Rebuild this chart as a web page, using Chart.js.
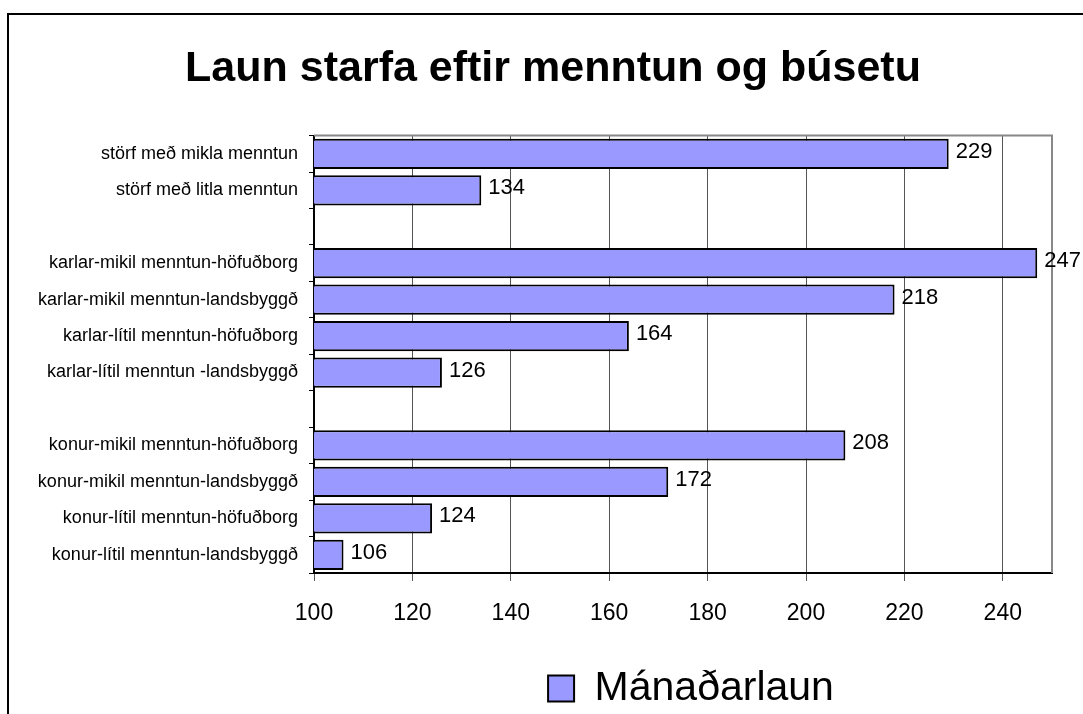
<!DOCTYPE html>
<html>
<head>
<meta charset="utf-8">
<script src="https://cdn.jsdelivr.net/npm/chart.js@4/dist/chart.umd.min.js"></script>
<style>
    body { margin: 0; background: #fff; }
    #wrap { position: relative; width: 1083px; height: 714px; overflow: hidden; }
    #frame { position: absolute; left: 7px; top: 13px; width: 1200px; height: 800px; border: 2px solid #000; }
    canvas { position: absolute; left: 0; top: 0; }
</style>
</head>
<body>
<div id="wrap">
    <div id="frame"></div>
    <canvas id="bar-chart-laun" width="1083" height="714"></canvas>
</div>
<script>
var chartTitle = 'Laun starfa eftir menntun og búsetu';
var seriesName = 'Mánaðarlaun';

// empty labels are the gaps between the groups
var categories = [
    'störf með mikla menntun',
    'störf með litla menntun',
    '',
    'karlar-mikil menntun-höfuðborg',
    'karlar-mikil menntun-landsbyggð',
    'karlar-lítil menntun-höfuðborg',
    'karlar-lítil menntun -landsbyggð',
    '',
    'konur-mikil menntun-höfuðborg',
    'konur-mikil menntun-landsbyggð',
    'konur-lítil menntun-höfuðborg',
    'konur-lítil menntun-landsbyggð'
];
var launValues = [229, 134, null, 247, 218, 164, 126, null, 208, 172, 124, 106];
var xTicks = [100, 120, 140, 160, 180, 200, 220, 240];

var fontFamily = '"Liberation Sans", Arial, sans-serif';

// numbers at the end of each bar
var valueLabels = {
    id: 'valueLabels',
    afterDatasetsDraw: function (chart) {
        var ctx = chart.ctx;
        var meta = chart.getDatasetMeta(0);
        ctx.save();
        ctx.font = '22px ' + fontFamily;
        ctx.fillStyle = '#000';
        ctx.textAlign = 'left';
        ctx.textBaseline = 'middle';
        meta.data.forEach(function (bar, i) {
            var v = launValues[i];
            if (v === null) {
                return;
            }
            ctx.fillText(v, bar.x + 7, bar.y - 2);
        });
        ctx.restore();
    }
};

// grey top and right edge of the plot area
var plotFrame = {
    id: 'plotFrame',
    beforeDatasetsDraw: function (chart) {
        var a = chart.chartArea;
        var ctx = chart.ctx;
        ctx.save();
        ctx.strokeStyle = '#888';
        ctx.lineWidth = 2;
        ctx.beginPath();
        ctx.moveTo(a.left, a.top);
        ctx.lineTo(a.right, a.top);
        ctx.lineTo(a.right, a.bottom);
        ctx.stroke();
        ctx.restore();
    }
};

// title and legend sit a bit right of the canvas centre in the original
var nudgeBoxes = {
    id: 'nudgeBoxes',
    afterLayout: function (chart) {
        if (chart.titleBlock) {
            chart.titleBlock.left += 27;
            chart.titleBlock.right += 27;
        }
        if (chart.legend) {
            chart.legend.left += 8;
            chart.legend.right += 8;
        }
    }
};

var barOptions = {
    type: 'bar',
    data: {
        labels: categories,
        datasets: [
            {
                label: seriesName,
                data: launValues,
                backgroundColor: '#9999FF',
                borderColor: '#000',
                borderWidth: 2,
                borderSkipped: false,
                barPercentage: 0.83,
                categoryPercentage: 1
            }
        ]
    },
    options: {
        indexAxis: 'y',
        responsive: false,
        animation: false,
        devicePixelRatio: 1,
        layout: {
            padding: { left: 0, right: 31, top: 0, bottom: -5 }
        },
        scales: {
            x: {
                min: 100,
                max: 250,
                afterBuildTicks: function (scale) {
                    scale.ticks = xTicks.map(function (v) { return { value: v }; });
                },
                afterFit: function (scale) {
                    scale.height = 89;
                },
                grid: {
                    color: '#555',
                    lineWidth: 1,
                    tickLength: 8,
                    tickColor: '#555'
                },
                border: { color: '#000', width: 2 },
                ticks: {
                    color: '#000',
                    padding: 19,
                    font: { family: fontFamily, size: 23 }
                }
            },
            y: {
                afterFit: function (scale) {
                    scale.width = 314;
                },
                grid: {
                    drawOnChartArea: false,
                    tickLength: 5,
                    color: '#000',
                    offset: true
                },
                border: { color: '#000', width: 2 },
                ticks: {
                    color: '#000',
                    padding: 11,
                    autoSkip: false,
                    font: { family: fontFamily, size: 18 }
                }
            }
        },
        plugins: {
            title: {
                display: true,
                text: chartTitle,
                color: '#000',
                font: { family: fontFamily, size: 43, weight: 'bold' },
                padding: { top: 43, bottom: 41 }
            },
            legend: {
                position: 'bottom',
                fullSize: false,
                labels: {
                    color: '#000',
                    boxWidth: 26,
                    boxHeight: 26,
                    padding: 6,
                    font: { family: fontFamily, size: 41 }
                }
            },
            tooltip: { enabled: false }
        }
    },
    plugins: [plotFrame, valueLabels, nudgeBoxes]
};

var launCtx = document.getElementById('bar-chart-laun');
var launChart = new Chart(launCtx, barOptions);
</script>
</body>
</html>
